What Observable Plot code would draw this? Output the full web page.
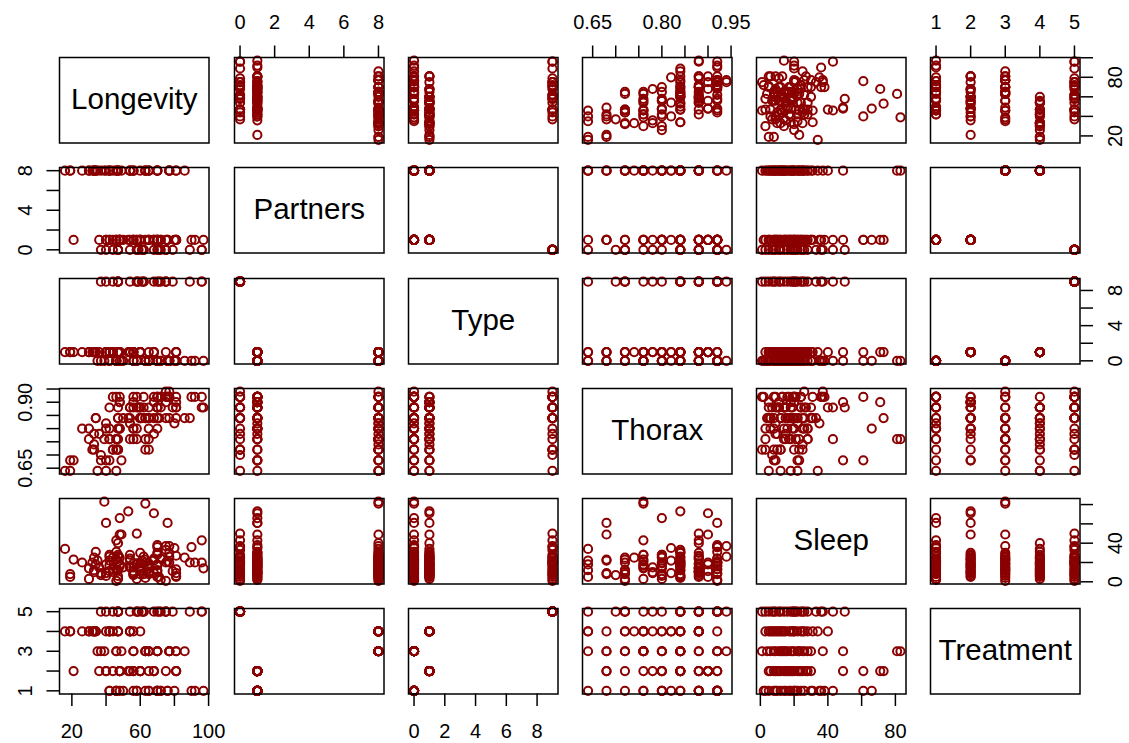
<!DOCTYPE html>
<html><head><meta charset="utf-8">
<script src="https://cdn.jsdelivr.net/npm/d3@7"></script>
<script src="https://cdn.jsdelivr.net/npm/@observablehq/plot@0.6"></script>
<style>
html,body{margin:0;padding:0;background:#fff;}
#chart{position:relative;width:1129px;height:743px;overflow:hidden;font-family:"Liberation Sans",Arial,sans-serif;}
#chart svg{position:absolute;overflow:visible;background:transparent;}
</style></head><body><div id="chart"></div>
<script>
const varNames = ["Longevity","Partners","Type","Thorax","Sleep","Treatment"];

// Treatment 1 (1 pregnant), 2 (1 virgin), 3 (8 pregnant), 4 (8 virgin), 5 (none)
const longevity = [
  46,42,65,46,58,42,48,58,50,80,63,65,70,70,72,97,46,56,70,70,72,76,90,76,92,
  21,40,44,54,36,40,56,60,48,53,60,60,65,68,60,81,81,48,48,56,68,75,81,48,68,
  35,37,49,46,63,39,46,56,63,65,56,65,70,63,65,70,77,81,86,70,70,77,77,81,77,
  16,19,19,32,33,33,30,42,42,33,26,30,40,54,34,34,47,47,42,47,54,54,56,60,44,
  40,37,44,47,47,47,68,47,54,61,71,75,89,58,59,62,79,96,58,62,70,72,75,96,75
];
const thorax = [
  .64,.68,.72,.76,.76,.80,.80,.80,.84,.82,.84,.88,.88,.88,.88,.88,.92,.92,.92,.92,.92,.92,.92,.92,.92,
  .68,.68,.72,.76,.78,.80,.80,.84,.80,.84,.84,.84,.84,.84,.88,.88,.88,.90,.90,.90,.90,.90,.90,.92,.92,
  .64,.68,.68,.72,.72,.76,.76,.76,.76,.76,.80,.80,.80,.84,.84,.84,.84,.84,.84,.88,.88,.92,.92,.92,.94,
  .64,.64,.68,.72,.72,.74,.76,.76,.76,.78,.80,.80,.82,.82,.84,.84,.84,.84,.88,.88,.88,.88,.88,.88,.92,
  .64,.70,.72,.72,.72,.76,.78,.80,.84,.84,.84,.84,.84,.88,.88,.88,.88,.88,.92,.92,.92,.92,.92,.92,.94
];
const sleep = [
  12,22,8,43,18,26,66,3,15,35,20,10,30,5,24,14,31,9,17,38,2,61,36,21,20,
  23,61,10,28,15,6,19,12,25,73,8,30,17,22,14,9,27,49,18,11,71,20,5,16,24,
  22,9,49,1,23,83,23,15,81,14,8,16,28,4,19,12,30,6,25,18,11,37,20,13,26,
  34,5,8,20,12,25,3,17,28,10,20,14,9,22,31,18,6,26,11,40,15,24,7,19,13,
  18,7,25,12,3,21,9,28,16,22,5,33,20,50,14,26,11,43,19,8,36,24,1,20,37
];
const treatmentGroups = [1,2,3,4,5];
const treatment = treatmentGroups.flatMap(t => Array(25).fill(t));
const partnersByTreatment = [1,1,8,8,0];
const typeByTreatment = [0,1,0,1,9];
const partners = treatment.map(t => partnersByTreatment[t-1]);
const type = treatment.map(t => typeByTreatment[t-1]);

const tickValues = {
  Longevity: [20,40,60,80,100],
  Partners: [0,2,4,6,8],
  Type: [0,2,4,6,8],
  Thorax: [0.65,0.70,0.75,0.80,0.85,0.90,0.95],
  Sleep: [0,20,40,60,80],
  Treatment: [1,2,3,4,5]
};
// labels drawn on horizontal (top/bottom) axes
const labelsH = {
  Longevity: [20,60,100], Partners: [0,2,4,6,8], Type: [0,2,4,6,8],
  Thorax: [0.65,0.80,0.95], Sleep: [0,40,80], Treatment: [1,2,3,4,5]
};
// labels drawn on vertical (left/right) axes
const labelsV = {
  Longevity: [20,80], Partners: [0,4,8], Type: [0,4,8],
  Thorax: [0.65,0.90], Sleep: [0,40], Treatment: [1,3,5]
};

const columns = {Longevity: longevity, Partners: partners, Type: type, Thorax: thorax, Sleep: sleep, Treatment: treatment};
const rows = longevity.map((_, k) => Object.fromEntries(varNames.map(v => [v, columns[v][k]])));
const domains = Object.fromEntries(varNames.map(v => {
  const [a, b] = d3.extent(columns[v]); const p = (b - a) * 0.04; return [v, [a - p, b + p]];
}));
const fmt = (v, d) => v === "Thorax" ? d.toFixed(2) : String(d);

const W = 149.5, H = 85.5, X0 = 59.3, Y0 = 57.3, DX = 174.2, DY = 110.1, M = 70;
const container = document.getElementById("chart");
const axBase = {tickSize: 12.5, strokeWidth: 1.5, fontSize: 20, fill: "black", stroke: "black", label: null};

for (let i = 0; i < 6; i++) for (let j = 0; j < 6; j++) {
  const vy = varNames[i], vx = varNames[j];
  const marks = [];
  if (i === j) {
    marks.push(Plot.text([vx], {frameAnchor: "middle", fontSize: 29.5, fill: "black", dy: -1}));
  } else {
    marks.push(Plot.dot(rows, {x: vx, y: vy, r: 4.1, stroke: "#8B0000", strokeWidth: 2, fill: "none"}));
  }
  const fH = v => d => labelsH[v].includes(d) ? fmt(v, d) : "";
  const fV = v => d => labelsV[v].includes(d) ? fmt(v, d) : "";
  if (i === 0 && j % 2 === 1)
    marks.push(Plot.axisX(tickValues[vx], {...axBase, anchor: "top", tickPadding: 16, tickFormat: fH(vx)}));
  if (i === 5 && j % 2 === 0)
    marks.push(Plot.axisX(tickValues[vx], {...axBase, anchor: "bottom", tickPadding: 17, tickFormat: fH(vx)}));
  if (j === 0 && i % 2 === 1)
    marks.push(Plot.axisY(tickValues[vy], {...axBase, anchor: "left", tickRotate: -90, tickPadding: 14.6, tickFormat: fV(vy)}));
  if (j === 5 && i % 2 === 0)
    marks.push(Plot.axisY(tickValues[vy], {...axBase, anchor: "right", tickRotate: -90, lineAnchor: "top", tickPadding: 15, tickFormat: fV(vy)}));
  marks.push(Plot.frame({stroke: "black", strokeWidth: 1.5}));
  const opts = {
    width: W + 2 * M, height: H + 2 * M,
    marginLeft: M, marginRight: M, marginTop: M, marginBottom: M,
    style: {background: "transparent", overflow: "visible", fontFamily: "Liberation Sans, Arial, sans-serif", fontSize: "20px", color: "black"},
    marks
  };
  if (i !== j) {
    opts.x = {domain: domains[vx], axis: null, label: null};
    opts.y = {domain: domains[vy], axis: null, label: null};
  }
  const svg = Plot.plot(opts);
  svg.style.position = "absolute";
  svg.style.left = (X0 + j * DX - M) + "px";
  svg.style.top = (Y0 + i * DY - M) + "px";
  svg.style.maxWidth = "none";
  container.appendChild(svg);
}
</script></body></html>
